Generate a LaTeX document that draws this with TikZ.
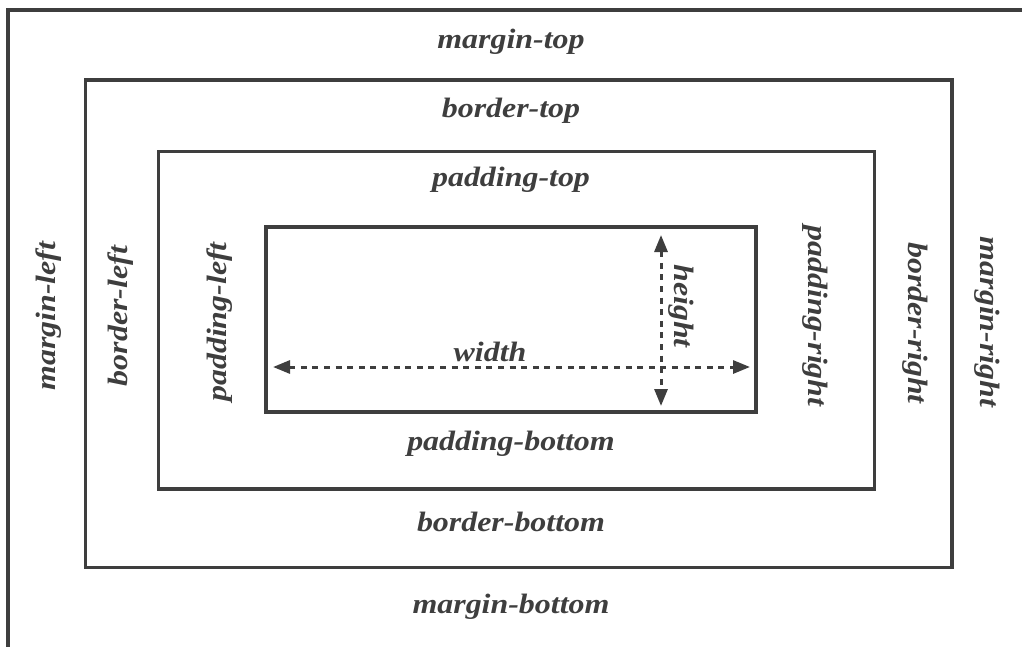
\documentclass[tikz,border=0pt]{standalone}
\usepackage{fontspec}
\setmainfont[FakeStretch=1.14]{Liberation Serif}
\usetikzlibrary{arrows.meta}

\definecolor{ink}{HTML}{3E3E3E}

\tikzset{
  frame/.style={draw=ink, line width=3.4pt},
  lbl/.style={text=ink, inner sep=0pt, anchor=base,
    font=\fontsize{28}{33}\selectfont\bfseries\itshape},
  upward/.style={lbl, rotate=90},
  downward/.style={lbl, rotate=-90},
  dim/.style={draw=ink, line width=3pt, dash pattern=on 6pt off 5.6pt,
    {Triangle[length=17pt,width=13pt]}-{Triangle[length=17pt,width=13pt]}},
}

\begin{document}
\begin{tikzpicture}[x=1pt, y=-1pt]
  \useasboundingbox (0,0) rectangle (1022,647);

  % margin edge (only top and left sides fall inside the page)
  \coordinate (mbl) at (8,647);
  \coordinate (mtl) at (8,10);
  \coordinate (mtr) at (1022,10);
  \draw[frame] (mbl) -- (mtl) -- (mtr);

  % border, padding and content boxes
  \node[frame, inner sep=0pt, minimum width=866.5pt, minimum height=487.5pt]
    (border) at (518.75,323.75) {};
  \node[frame, inner sep=0pt, minimum width=716pt, minimum height=337.5pt]
    (padding) at (516.5,320.25) {};
  \node[frame, inner sep=0pt, minimum width=490pt, minimum height=185pt]
    (content) at (511,319.5) {};

  % horizontal labels
  \node[lbl] (mtop) at (511,49) {margin-top};
  \node[lbl] (btop) at (511,118) {border-top};
  \node[lbl] (ptop) at (511,186) {padding-top};
  \node[lbl] (pbot) at (511,450) {padding-bottom};
  \node[lbl] (bbot) at (511,531) {border-bottom};
  \node[lbl] (mbot) at (511,613) {margin-bottom};

  % left side labels, reading upward
  \node[upward] (mleft) at (55,316) {margin-left};
  \node[upward] (bleft) at (127,316) {border-left};
  \node[upward] (pleft) at (226,322) {padding-left};

  % right side labels, reading downward
  \node[downward] (pright) at (808,316) {padding-right};
  \node[downward] (bright) at (908,323) {border-right};
  \node[downward] (mright) at (980,322) {margin-right};

  % content dimensions
  \coordinate (wl) at (273,367);
  \coordinate (wr) at (750,367);
  \coordinate (ht) at (661,235);
  \coordinate (hb) at (661,406);
  \draw[dim] (wl) -- (wr);
  \draw[dim] (ht) -- (hb);
  \node[lbl] (wlabel) at (490,361) {width};
  \node[downward] (hlabel) at (674,306) {height};
\end{tikzpicture}
\end{document}
